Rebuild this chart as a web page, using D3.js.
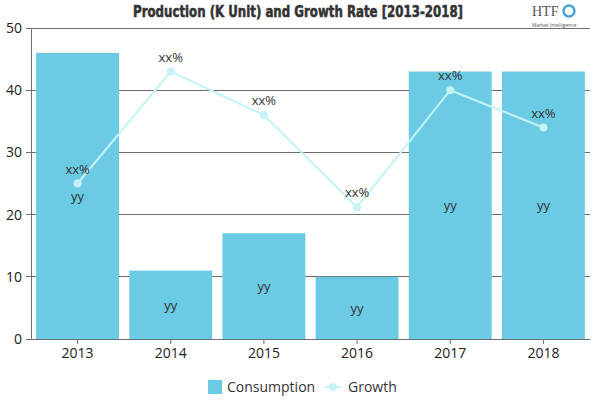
<!DOCTYPE html>
<html><head><meta charset="utf-8">
<script src="https://cdn.jsdelivr.net/npm/d3@7"></script>
<style>body{margin:0;background:#fff}svg{display:block}</style>
</head><body>
<svg id="c" width="600" height="400"></svg>
<script>
const years = ["2013","2014","2015","2016","2017","2018"];
const consumption = [46, 11, 17, 10, 43, 43];
const growth = [25, 43, 36, 21.2, 40, 34];
const barLabels = ["yy","yy","yy","yy","yy","yy"];
const pointLabels = ["xx%","xx%","xx%","xx%","xx%","xx%"];
const yTicks = [0,10,20,30,40,50];
const title = "Production (K Unit) and Growth Rate [2013-2018]";
const seriesNames = ["Consumption","Growth"];

const svg = d3.select("#c");
const m = {l:31, r:10, t:28, b:61};
const W = 600, H = 400;
const x = d3.scaleBand().domain(years).range([m.l, W - m.r]).paddingInner(0.11).paddingOuter(0.055);
const y = d3.scaleLinear().domain([0,50]).range([H - m.b, m.t]);
const font = "'Open Sans','Noto Sans',sans-serif";
const barColor = "#6bcbe5", lineColor = "#c4f2f6";

// grid
svg.append("g").selectAll("line").data(yTicks).join("line")
  .attr("x1", m.l - 5).attr("x2", W - m.r).attr("y1", d=>y(d)).attr("y2", d=>y(d))
  .attr("stroke", "#6e6e6e").attr("stroke-width", 1).attr("shape-rendering","crispEdges");

// bars
svg.append("g").selectAll("rect").data(consumption).join("rect")
  .attr("x", (d,i)=>x(years[i])).attr("width", x.bandwidth())
  .attr("y", d=>y(d)).attr("height", d=>y(0)-y(d)).attr("fill", barColor);

// y axis
const ya = svg.append("g").attr("transform", `translate(${m.l},0)`)
  .call(d3.axisLeft(y).tickValues(yTicks).tickSize(5).tickPadding(4));
ya.select(".domain").attr("stroke","#6e6e6e");
ya.selectAll(".tick line").remove();
ya.selectAll("text").attr("font-family", font).attr("font-size", 14).attr("fill","#222");

// x axis
const xa = svg.append("g").attr("transform", `translate(0,${y(0)})`)
  .call(d3.axisBottom(x).tickSize(5).tickPadding(4).tickSizeOuter(0));
xa.select(".domain").attr("stroke","#6e6e6e");
xa.selectAll(".tick line").attr("stroke","#6e6e6e");
xa.selectAll("text").attr("font-family", font).attr("font-size", 14).attr("fill","#222");

// bar labels
svg.append("g").selectAll("text").data(consumption).join("text")
  .attr("x", (d,i)=>x(years[i]) + x.bandwidth()/2)
  .attr("y", d=>(y(d)+y(0))/2 + 5)
  .attr("text-anchor","middle").attr("font-family", font).attr("font-size", 13).attr("fill","#333")
  .text((d,i)=>barLabels[i]);

// line
const cx = i => x(years[i]) + x.bandwidth()/2;
svg.append("path").datum(growth)
  .attr("d", d3.line().x((d,i)=>cx(i)).y(d=>y(d)))
  .attr("fill","none").attr("stroke", lineColor).attr("stroke-width", 2);
svg.append("g").selectAll("circle").data(growth).join("circle")
  .attr("cx", (d,i)=>cx(i)).attr("cy", d=>y(d)).attr("r", 4).attr("fill", lineColor);
svg.append("g").selectAll("text").data(growth).join("text")
  .attr("x", (d,i)=>cx(i)).attr("y", d=>y(d) - 10)
  .attr("text-anchor","middle").attr("font-family", font).attr("font-size", 13).attr("fill","#333")
  .text((d,i)=>pointLabels[i]);

// title
svg.append("text").attr("x", 298).attr("y", 17).attr("text-anchor","middle")
  .attr("font-family","'Liberation Sans Narrow','DejaVu Sans Condensed',sans-serif")
  .attr("font-weight","bold").attr("font-size", 15).attr("fill","#333")
  .attr("stroke","#333").attr("stroke-width",0.5)
  .attr("textLength", 330).attr("lengthAdjust","spacingAndGlyphs").text(title);

// logo
const lg = svg.append("g");
lg.append("text").attr("x", 532).attr("y", 16).attr("font-family","'Liberation Serif',serif")
  .attr("font-size", 14).attr("fill","#555").text("HTF");
lg.append("circle").attr("cx", 569).attr("cy", 11).attr("r", 5.5).attr("fill","none").attr("stroke","#4aa3d8").attr("stroke-width",2.5);
lg.append("text").attr("x", 532).attr("y", 27).attr("font-family", font).attr("font-size", 5).attr("fill","#555").text("Market Intelligence");

// legend
const leg = svg.append("g");
leg.append("rect").attr("x", 208).attr("y", 380).attr("width", 14).attr("height", 14).attr("fill", barColor);
leg.append("text").attr("x", 227).attr("y", 392).attr("font-family", font).attr("font-size", 14).attr("fill","#333").text(seriesNames[0]);
leg.append("line").attr("x1", 325).attr("x2", 341).attr("y1", 387).attr("y2", 387).attr("stroke", lineColor).attr("stroke-width", 2);
leg.append("circle").attr("cx", 333).attr("cy", 387).attr("r", 4).attr("fill", lineColor);
leg.append("text").attr("x", 348).attr("y", 392).attr("font-family", font).attr("font-size", 14).attr("fill","#333").text(seriesNames[1]);
</script>
</body></html>
